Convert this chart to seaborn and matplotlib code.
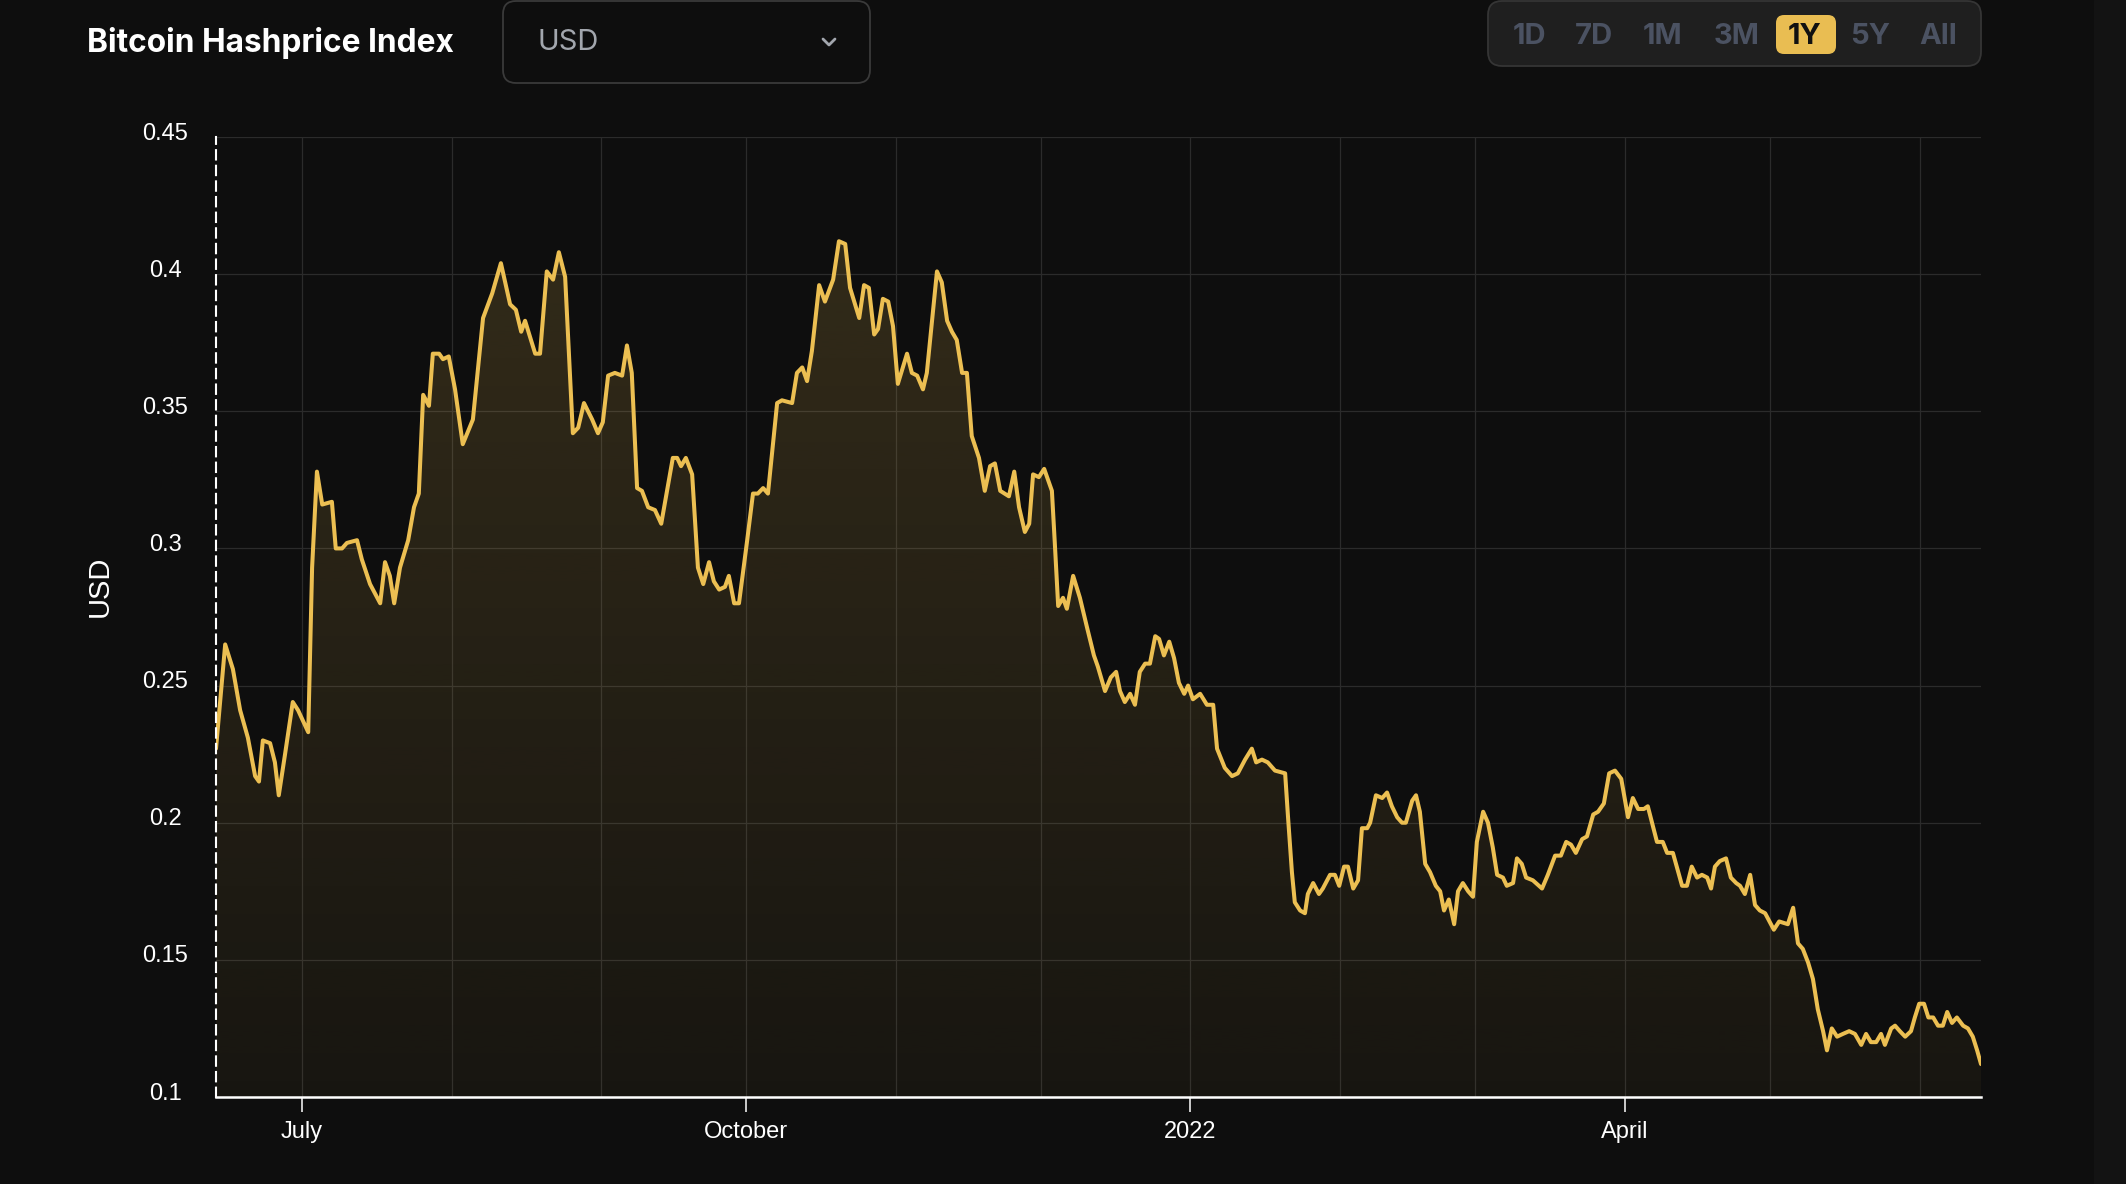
import numpy as np
import pandas as pd
import matplotlib
matplotlib.use("Agg")
import matplotlib.pyplot as plt
import matplotlib.dates as mdates
import seaborn as sns
from matplotlib.patches import FancyBboxPatch, Rectangle
from matplotlib.lines import Line2D
from matplotlib.transforms import IdentityTransform, ScaledTranslation
from matplotlib.colors import to_rgb

# ---- data ----
start_date = "2021-06-13 05:00"

days_since_start = [
    0.0, 1.9, 3.5, 5.0, 6.6, 8.1, 8.9, 9.7, 11.2, 12.2, 13.0, 14.3, 15.9, 17.0, 19.1, 19.9, 20.9,
    22.0, 24.0, 24.8, 26.1, 27.1, 29.2, 30.2, 31.9, 34.0, 35.0, 36.0, 36.9, 38.1, 39.8, 41.0, 42.0,
    42.9, 44.1, 44.9, 46.2, 47.0, 48.2, 49.5, 51.1, 53.2, 55.3, 57.2, 59.0, 60.9, 62.1, 63.2, 64.0,
    66.1, 67.1, 68.5, 69.8, 71.0, 72.3, 73.9, 75.0, 76.2, 77.9, 79.1, 80.1, 81.2, 82.6, 84.1, 85.1,
    86.1, 87.2, 88.2, 89.5, 90.9, 92.2, 93.4, 94.6, 95.5, 96.3, 97.3, 98.6, 99.8, 100.9, 102.1, 103.1,
    104.2, 105.4, 106.2, 107.3, 108.3, 110.0, 111.2, 112.2, 113.3, 114.3, 116.2, 117.2, 119.3, 120.3,
    121.4, 122.4, 123.4,
    124.9, 126.1, 127.8, 129.0, 130.3, 131.3, 133.2, 134.2, 135.2, 136.3, 137.1, 138.1, 139.2, 140.2,
    141.2, 143.1, 144.1, 145.2, 146.4, 147.2, 149.3, 150.3, 151.4, 152.4, 153.4, 154.5, 155.5, 156.5,
    158.0, 159.2, 160.3, 161.3, 162.4, 164.2, 165.3, 166.3, 167.5, 168.4, 169.2, 170.4, 171.5, 173.1,
    173.7, 174.4, 175.4, 176.2, 177.5, 178.9, 180.4,
    181.8, 182.6, 184.1, 185.3, 186.4, 187.2, 188.2, 189.3, 190.3, 191.3, 192.4, 193.4, 194.5, 195.3,
    196.3, 197.4, 198.4, 199.4, 200.5, 201.3, 202.3, 203.8, 205.2, 206.5, 207.3, 208.9, 210.4, 211.6,
    213.1, 214.5, 215.4, 216.6, 217.8, 219.3, 221.4, 222.0, 222.8, 223.4, 224.5, 225.5, 226.1, 227.2,
    228.4, 229.2, 230.7, 231.7, 232.6, 233.6, 234.4, 235.5, 236.5, 237.3, 238.4, 239.0, 240.2, 241.5,
    242.5, 243.5, 244.6, 245.6,
    246.4, 247.7, 248.5, 249.3, 250.4, 251.4, 252.6, 253.5, 254.3, 255.3, 256.4, 257.2, 258.2, 259.3,
    260.3, 261.1, 262.4, 263.4, 264.4, 265.3, 266.5, 267.3, 268.6, 269.4, 270.4, 271.3, 272.7, 274.6,
    275.8, 277.3, 278.5, 279.6, 280.6, 281.6, 282.9, 283.9, 285.2, 286.2, 287.4, 288.5, 289.7, 291.0,
    292.4, 293.4, 294.5, 295.7, 296.5, 298.4, 299.6, 300.5, 301.7, 303.6, 304.6, 305.6, 306.7,
    307.7, 308.8, 309.6, 310.4, 311.4, 312.7, 313.7, 314.8, 315.6, 316.6, 317.7, 318.7, 319.7, 320.8,
    322.6, 323.7, 325.5, 326.6, 327.6, 328.6, 329.7, 330.7, 331.7, 332.8, 333.6, 334.6, 335.7, 336.9,
    338.2, 339.4, 340.7, 341.7, 342.7, 343.8, 344.8, 345.6, 346.9, 347.7, 348.7, 349.8, 351.0, 351.8,
    352.7, 353.7, 354.6, 355.6, 356.6, 357.6, 358.5, 359.5, 360.5, 361.8, 362.8, 363.8, 364.7, 365.5,
]

hashprice_usd = [
    .227, .265, .256, .241, .231, .217, .215, .230, .229, .222, .210, .225, .244, .241, .233, .293, .328,
    .316, .317, .300, .300, .302, .303, .296, .287, .280, .295, .290, .280, .293, .303, .315, .320,
    .356, .352, .371, .371, .369, .370, .358, .338, .347, .384, .393, .404, .389, .387, .379, .383,
    .371, .371, .401, .398, .408, .399, .342, .344, .353, .347, .342, .346, .363, .364, .363, .374,
    .364, .322, .321, .315, .314, .309, .321, .333, .333, .330, .333, .327, .293, .287, .295, .288,
    .285, .286, .290, .280, .280, .303, .320, .320, .322, .320, .353, .354, .353, .364,
    .366, .361, .372,
    .396, .390, .398, .412, .411, .395, .384, .396, .395, .378, .380, .391, .390, .381,
    .360, .371, .364, .363, .358, .364, .401, .397, .383, .379, .376, .364, .364, .341,
    .333, .321, .330, .331, .321, .319, .328, .315, .306, .309, .327, .326, .329, .321,
    .302, .279, .282, .278, .290, .282, .271,
    .261, .257, .248, .253, .255, .248, .244, .247, .243, .255, .258, .258, .268, .267,
    .261, .266, .260, .251, .247, .250, .245, .247, .243, .243, .227, .220, .217, .218,
    .223, .227, .222, .223, .222, .219, .218, .202, .182, .171, .168, .167, .174, .178,
    .174, .176, .181, .181, .177, .184, .184, .176, .179, .198, .198, .200, .210, .209,
    .211, .206, .202, .200,
    .200, .208, .210, .204, .185, .182, .177, .175, .168, .172, .163, .175, .178, .175,
    .173, .193, .204, .200, .191, .181, .180, .177, .178, .187, .185, .180, .179, .176,
    .181, .188, .188, .193, .192, .189, .194, .195, .203, .204, .207, .218, .219, .216,
    .202, .209, .205, .205, .206, .193, .193, .189, .189, .177, .177, .184, .180,
    .181, .180, .176, .184, .186, .187, .180, .178, .177, .174, .181, .170, .168, .167,
    .161, .164, .163, .169, .156, .154, .149, .143, .132, .124, .117, .125, .122, .123,
    .124, .123, .119, .123, .120, .120, .123, .119, .125, .126, .124, .122, .124, .129,
    .134, .134, .129, .129, .126, .126, .131, .127, .129, .126, .125, .122, .117, .112,
]

y_ticks = [0.1, 0.15, 0.2, 0.25, 0.3, 0.35, 0.4, 0.45]
y_tick_labels = ["0.1", "0.15", "0.2", "0.25", "0.3", "0.35", "0.4", "0.45"]
x_tick_dates = ["2021-07-01", "2021-10-01", "2022-01-01", "2022-04-01"]
x_tick_labels = ["July", "October", "2022", "April"]
range_buttons = ["1D", "7D", "1M", "3M", "1Y", "5Y", "All"]
active_range = "1Y"

# ---- style ----
W, H, DPI = 2126, 1184, 100
BG = "#0e0e0e"
GOLD = "#ecbf52"
GRID = "#2b2b2b"

sns.set_theme(style="dark")
plt.rcParams["font.family"] = ["Liberation Sans", "DejaVu Sans"]

df = pd.DataFrame({
    "date": pd.Timestamp(start_date) + pd.to_timedelta(days_since_start, unit="D"),
    "usd": hashprice_usd,
})

fig = plt.figure(figsize=(W / DPI, H / DPI), dpi=DPI, facecolor=BG)
ax = fig.add_axes([216 / W, 1 - 1097 / H, (1981 - 216) / W, (1097 - 137) / H])
ax.set_facecolor(BG)

sns.lineplot(data=df, x="date", y="usd", color=GOLD, linewidth=2.9, ax=ax, zorder=4)
ax.lines[0].set_solid_joinstyle("round")

# gradient fill under the curve
fill = ax.fill_between(df["date"], df["usd"], 0.1, color="none", linewidth=0)
xnum = mdates.date2num(df["date"])
alpha = np.linspace(0.18, 0.045, 256)
rgba = np.zeros((256, 1, 4))
rgba[..., :3] = to_rgb(GOLD)
rgba[:, 0, 3] = alpha
im = ax.imshow(rgba, extent=[xnum[0], xnum[-1], 0.1, 0.45], origin="upper",
               aspect="auto", zorder=2, interpolation="bilinear")
im.set_clip_path(fill.get_paths()[0], ax.transData)

ax.set_xlim(df["date"].iloc[0], df["date"].iloc[-1])
ax.set_ylim(0.1, 0.45)

# axes / ticks / grid
ax.set_xticks(pd.to_datetime(x_tick_dates))
ax.set_xticklabels(x_tick_labels)
ax.xaxis.set_minor_locator(mdates.MonthLocator())
ax.set_yticks(y_ticks)
ax.set_yticklabels(y_tick_labels, ha="center")
ax.set_xlabel("")
ax.set_ylabel("")

ax.grid(True, which="major", color=GRID, linewidth=0.9, zorder=0)
ax.grid(True, which="minor", axis="x", color=GRID, linewidth=0.9, zorder=0)
ax.set_axisbelow(True)

ax.tick_params(axis="x", which="major", length=10.8, width=1.1, color="white",
               labelcolor="white", labelsize=17, pad=6.5, bottom=True)
ax.tick_params(axis="x", which="minor", length=0)
ax.tick_params(axis="y", length=0, pad=36.5, labelsize=17, labelcolor="white")
lift = ScaledTranslation(0, 0.06, fig.dpi_scale_trans)
for t in ax.yaxis.get_major_ticks():
    t.label1.set_transform(t.label1.get_transform() + lift)

for side in ["top", "right"]:
    ax.spines[side].set_visible(False)
ax.spines["left"].set_color("white")
ax.spines["left"].set_linewidth(1.5)
ax.spines["left"].set_linestyle((0, (4.5, 3)))
ax.spines["bottom"].set_color("white")
ax.spines["bottom"].set_linewidth(1.8)
ax.spines["left"].set_zorder(5)
ax.spines["bottom"].set_zorder(5)

fig.text(100 / W, 1 - 586 / H, "USD", rotation=90, fontsize=21, color="white",
         ha="center", va="center")

# ---- header widgets (pixel coordinates) ----
px = IdentityTransform()

fig.add_artist(Rectangle((2094, 0), 32, H, transform=px, color="#131313", zorder=0))

fig.text(87 / W, 1 - 43 / H, "Bitcoin Hashprice Index", fontsize=22.8, fontweight="bold",
         color="white", family=["Inter", "DejaVu Sans"], ha="left", va="center")

fig.add_artist(FancyBboxPatch((503, H - 83), 367, 82,
                              boxstyle="round,pad=0,rounding_size=13", transform=px,
                              facecolor=BG, edgecolor="#3a3a3a", linewidth=1.3))
fig.text(537 / W, 1 - 43 / H, "USD", fontsize=21, color="#a2a6ad",
         family=["Inter", "DejaVu Sans"], ha="left", va="center")
fig.add_artist(Line2D([823, 829, 835], [H - 39, H - 45, H - 39], transform=px,
                      color="#a2a6ad", linewidth=2.0, solid_capstyle="round",
                      solid_joinstyle="round"))

fig.add_artist(FancyBboxPatch((1488, H - 66), 493, 65,
                              boxstyle="round,pad=0,rounding_size=14", transform=px,
                              facecolor="#1f1f1f", edgecolor="#353535", linewidth=1.3))
button_x = [1529, 1594, 1663, 1737, 1805, 1870, 1938]
for label, bx in zip(range_buttons, button_x):
    if label == active_range:
        fig.add_artist(FancyBboxPatch((1776, H - 54), 60, 39,
                                      boxstyle="round,pad=0,rounding_size=8", transform=px,
                                      facecolor="#e9bd52", edgecolor="none"))
        col = "#111111"
    else:
        col = "#4b5262"
    fig.text(bx / W, 1 - 36 / H, label, fontsize=21, fontweight="bold", color=col,
             family=["Inter", "DejaVu Sans"], ha="center", va="center")

fig.savefig("out.png", dpi=DPI, facecolor=BG)
